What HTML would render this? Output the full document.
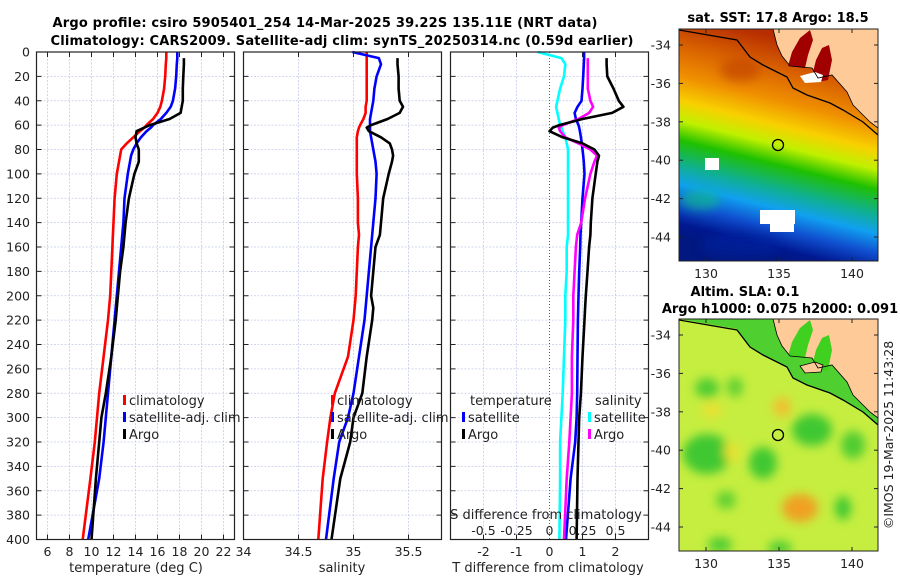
<!DOCTYPE html>
<html><head><meta charset="utf-8">
<style>
html,body{margin:0;padding:0;background:#fff;}
svg{display:block;font-family:"DejaVu Sans","Liberation Sans",sans-serif;}
</style></head>
<body>
<svg id="chart" width="900" height="580" viewBox="0 0 900 580" xmlns="http://www.w3.org/2000/svg">
<defs>
<linearGradient id="sstGrad" gradientUnits="userSpaceOnUse" x1="737" y1="4" x2="679" y2="236">
<stop offset="0" stop-color="#a82000"/>
<stop offset="0.1" stop-color="#b83000"/>
<stop offset="0.22" stop-color="#d86000"/>
<stop offset="0.35" stop-color="#f09000"/>
<stop offset="0.45" stop-color="#f8d000"/>
<stop offset="0.53" stop-color="#c0f000"/>
<stop offset="0.61" stop-color="#20c000"/>
<stop offset="0.71" stop-color="#10b090"/>
<stop offset="0.79" stop-color="#10a0f0"/>
<stop offset="0.87" stop-color="#1050d0"/>
<stop offset="0.95" stop-color="#001890"/>
<stop offset="1" stop-color="#001880"/>
</linearGradient>
<clipPath id="m1clip"><rect x="679" y="29" width="199" height="232"/></clipPath>
<clipPath id="m2clip"><rect x="679" y="319" width="199" height="232"/></clipPath>
<filter id="blur4"><feGaussianBlur stdDeviation="5"/></filter>
</defs>
<g id="titles">
<text x="325" y="27" text-anchor="middle" font-weight="bold" font-size="13" textLength="545">Argo profile: csiro 5905401_254 14-Mar-2025 39.22S 135.11E (NRT data)</text>
<text x="342" y="45" text-anchor="middle" font-weight="bold" font-size="13" textLength="583">Climatology: CARS2009. Satellite-adj clim: synTS_20250314.nc (0.59d earlier)</text>
</g>
<g id="p1"></g>
<g id="p2"></g>
<g id="p3"></g>
<g id="map1">
<text x="778" y="22" text-anchor="middle" font-weight="bold" font-size="13">sat. SST: 17.8 Argo: 18.5</text>
<g clip-path="url(#m1clip)">
<rect x="679" y="29" width="199" height="232" fill="url(#sstGrad)"/>
<g filter="url(#blur4)" opacity="0.6">
<ellipse cx="740" cy="70" rx="20" ry="12" fill="#c04000"/>
<ellipse cx="700" cy="200" rx="20" ry="10" fill="#10c080"/>
<ellipse cx="740" cy="245" rx="40" ry="12" fill="#0020a0"/>
</g>
<rect x="705" y="158" width="14" height="12" fill="#fff"/>
<rect x="760" y="210" width="35" height="14" fill="#fff"/>
<rect x="770" y="220" width="24" height="12" fill="#fff"/>
<polygon points="773,29 777,45 782,56 790,66 812,68 818,78 832,75 847,92 853,105 870,122 878,128 878,29" fill="#fdca98"/>
<polygon points="788,66 792,52 800,38 810,30 813,40 808,55 805,68" fill="#a00000"/>
<polygon points="812,76 816,60 822,48 829,45 832,60 828,80 818,82" fill="#a00000"/>
<polygon points="800,76 815,72 823,75 821,82 805,83" fill="#fff"/>
<polyline points="773,29 777,45 782,56 790,66 812,68 818,78 832,75 847,92 853,105 870,122 878,128" fill="none" stroke="#000" stroke-width="0.8"/>
<polyline points="679,30 737,40 750,57 763,65 787,77 793,88 807,95 830,103 843,110 863,122 878,135" fill="none" stroke="#000" stroke-width="1.3"/>
</g>
<rect x="679" y="29" width="199" height="232" fill="none" stroke="#222" stroke-width="1"/>
<circle cx="778" cy="145" r="5.5" fill="none" stroke="#000" stroke-width="1.3"/>
</g>
<g id="map2">
<text x="745" y="296" text-anchor="middle" font-weight="bold" font-size="13">Altim. SLA: 0.1</text>
<text x="780" y="313" text-anchor="middle" font-weight="bold" font-size="13">Argo h1000: 0.075 h2000: 0.091</text>
<g clip-path="url(#m2clip)">
<rect x="679" y="319" width="199" height="232" fill="#c6ee40"/>
<g filter="url(#blur4)">
<ellipse cx="707" cy="454" rx="24" ry="20" fill="#40c830"/>
<ellipse cx="707" cy="388" rx="12" ry="10" fill="#50cc30"/>
<ellipse cx="735" cy="387" rx="8" ry="10" fill="#60d030"/>
<ellipse cx="763" cy="463" rx="14" ry="16" fill="#40c830"/>
<ellipse cx="812" cy="430" rx="20" ry="16" fill="#40c830"/>
<ellipse cx="853" cy="445" rx="12" ry="14" fill="#50cc30"/>
<ellipse cx="843" cy="508" rx="8" ry="12" fill="#40c830"/>
<ellipse cx="726" cy="500" rx="10" ry="9" fill="#60d030"/>
<ellipse cx="800" cy="508" rx="18" ry="14" fill="#f0a020"/>
<ellipse cx="782" cy="407" rx="9" ry="10" fill="#f0c030"/>
<ellipse cx="712" cy="410" rx="10" ry="8" fill="#e8e030"/>
<ellipse cx="732" cy="452" rx="8" ry="10" fill="#e8e030"/>
<ellipse cx="720" cy="545" rx="12" ry="8" fill="#50cc30"/>
<ellipse cx="780" cy="548" rx="12" ry="7" fill="#50cc30"/>
</g>
<polygon points="679,319 737,329 750,347 763,355 787,367 793,378 807,385 830,393 843,400 863,412 878,425 878,319" fill="#50d030"/>
<polygon points="773,319 777,335 782,346 790,356 812,358 818,368 832,365 847,382 853,395 870,412 878,418 878,319" fill="#fdca98"/>
<polygon points="788,356 792,342 800,328 810,320 813,330 808,345 805,358" fill="#40d020"/>
<polygon points="812,366 816,350 822,338 829,335 832,350 828,370 818,372" fill="#40d020"/>
<polygon points="800,366 815,362 823,365 821,372 805,373" fill="#fdca98" stroke="#000" stroke-width="0.8"/>
<polyline points="773,319 777,335 782,346 790,356 812,358 818,368 832,365 847,382 853,395 870,412 878,418" fill="none" stroke="#000" stroke-width="0.8"/>
<polyline points="679,320 737,330 750,347 763,355 787,367 793,378 807,385 830,393 843,400 863,412 878,425" fill="none" stroke="#000" stroke-width="1.3"/>
</g>
<rect x="679" y="319" width="199" height="232" fill="none" stroke="#222" stroke-width="1"/>
<circle cx="778" cy="435" r="5.5" fill="none" stroke="#000" stroke-width="1.3"/>
</g>
<text transform="translate(893,435) rotate(-90)" text-anchor="middle" font-size="12.5" fill="#222">©IMOS 19-Mar-2025 11:43:28</text>
</svg>
<script>
// ---- data ----
const depths = [0,5,10,20,30,40,45,50,55,60,62,65,70,75,80,85,90,100,120,140,150,160,180,200,210,220,250,280,300,320,350,400];
const tempClim = [16.8,16.8,16.75,16.7,16.6,16.4,16.25,16.0,15.6,15.0,14.8,14.4,13.8,13.2,12.7,12.6,12.5,12.3,12.1,12.0,11.95,11.9,11.8,11.7,11.6,11.5,11.1,10.7,10.5,10.3,9.9,9.2];
const tempSat = [17.8,17.8,17.75,17.7,17.6,17.4,17.2,16.8,16.3,15.6,15.4,15.0,14.5,14.1,13.8,13.6,13.5,13.3,13.0,12.9,12.8,12.7,12.5,12.3,12.2,12.1,11.8,11.5,11.3,11.1,10.7,9.7];
const tempArgo = [null,18.4,18.4,18.35,18.3,18.3,18.2,18.1,17.1,15.3,14.8,14.1,14.0,14.1,14.3,14.3,14.3,13.9,13.4,13.1,13.0,12.9,12.6,12.4,12.3,12.2,11.8,11.3,10.9,10.7,10.4,10.0];
const salClim = [35.12,35.12,35.12,35.12,35.12,35.12,35.11,35.11,35.09,35.06,35.05,35.04,35.03,35.03,35.03,35.03,35.03,35.03,35.04,35.04,35.05,35.04,35.03,35.02,35.01,35.0,34.95,34.83,34.79,34.76,34.72,34.68];
const salSat = [34.99,35.23,35.25,35.21,35.19,35.18,35.17,35.16,35.15,35.15,35.15,35.15,35.16,35.17,35.18,35.19,35.2,35.21,35.2,35.18,35.17,35.16,35.14,35.12,35.11,35.1,35.05,35.0,34.95,34.87,34.82,34.75];
const salArgo = [null,35.4,35.4,35.41,35.41,35.42,35.45,35.42,35.31,35.16,35.12,35.14,35.25,35.33,35.35,35.36,35.35,35.32,35.27,35.25,35.24,35.2,35.18,35.16,35.18,35.17,35.12,35.08,35.0,34.97,34.88,34.8];
const dTsat = [1.05,1.05,1.04,1.02,1.0,0.97,0.85,0.76,0.8,0.88,0.9,0.92,0.95,0.98,1.0,1.02,1.04,1.06,1.0,0.96,0.94,0.93,0.9,0.88,0.87,0.86,0.85,0.84,0.82,0.78,0.64,0.5];
const dTargo = [null,1.73,1.73,1.75,1.94,2.1,2.24,1.9,1.0,0.3,0.1,0.0,0.4,1.0,1.36,1.5,1.45,1.4,1.3,1.25,1.24,1.2,1.15,1.1,1.08,1.06,1.0,0.95,0.9,0.88,0.85,0.82];
const dSsat = [-0.09,0.09,0.12,0.11,0.08,0.06,0.05,0.06,0.07,0.08,0.09,0.1,0.12,0.13,0.14,0.14,0.14,0.14,0.14,0.14,0.14,0.13,0.13,0.12,0.12,0.12,0.11,0.1,0.09,0.08,0.08,0.075];
const dSargo = [null,0.29,0.29,0.29,0.29,0.31,0.33,0.3,0.22,0.1,0.07,0.08,0.12,0.22,0.31,0.36,0.34,0.31,0.27,0.24,0.21,0.2,0.19,0.18,0.18,0.18,0.17,0.17,0.16,0.15,0.13,0.11];
const tempTicks = [6,8,10,12,14,16,18,20,22];
const salTicks = [34,34.5,35,35.5];
const salTickLabels = ["34","34.5","35","35.5"];
const dTTicks = [-2,-1,0,1,2];
const dSTicks = [-0.5,-0.25,0,0.25,0.5];
const dSTickLabels = ["-0.5","-0.25","0","0.25","0.5"];
const depthTicks = [0,20,40,60,80,100,120,140,160,180,200,220,240,260,280,300,320,340,360,380,400];

const NS = "http://www.w3.org/2000/svg";
const Y0 = 52, Y1 = 539.5;
function yScale(d){ return Y0 + (d/400)*(Y1-Y0); }
function mk(tag, attrs, parent){ const e=document.createElementNS(NS,tag); for(const k in attrs) e.setAttribute(k,attrs[k]); parent.appendChild(e); return e; }
function txt(s, attrs, parent){ const e=mk('text',attrs,parent); e.textContent=s; return e; }

function panel(g, x0, x1, dmin, dmax, name){
  const xs = v => x0 + (v-dmin)/(dmax-dmin)*(x1-x0);
  return xs;
}
function frame(g, x0, x1, vgrid, xs, name){
  depthTicks.forEach(d=>{
    const l=mk('line',{x1:x0,x2:x1,y1:yScale(d),y2:yScale(d),stroke:'#c4cce8','stroke-width':0.8,'stroke-dasharray':'2,1.5'},g);
    
    
    mk('line',{x1:x0,x2:x0+5,y1:yScale(d),y2:yScale(d),stroke:'#222','stroke-width':1},g);
    mk('line',{x1:x1-5,x2:x1,y1:yScale(d),y2:yScale(d),stroke:'#222','stroke-width':1},g);
  });
  vgrid.forEach(v=>{
    const x=xs(v);
    const l=mk('line',{x1:x,x2:x,y1:Y0,y2:Y1,stroke:'#c4cce8','stroke-width':0.8,'stroke-dasharray':'2,1.5'},g);
    
    
    mk('line',{x1:x,x2:x,y1:Y0,y2:Y0+5,stroke:'#222','stroke-width':1},g);
    mk('line',{x1:x,x2:x,y1:Y1-5,y2:Y1,stroke:'#222','stroke-width':1},g);
  });
}
function border(g,x0,x1,name){
  const r=mk('rect',{x:x0,y:Y0,width:x1-x0,height:Y1-Y0,fill:'none',stroke:'#222','stroke-width':1.2},g);
  
  
}
function line(g, xs, vals, color, name, w){
  let p=''; vals.forEach((v,i)=>{ if(v===null) return; p += (p?' L':'M')+xs(v).toFixed(1)+','+yScale(depths[i]).toFixed(1); });
  const e=mk('path',{d:p,fill:'none',stroke:color,'stroke-width':w||2.6,'stroke-linejoin':'round'},g);
  
  
}
function legendItem(g,x,y,color,label,name){
  mk('rect',{x:x,y:y-8,width:3,height:10,fill:color},g);
  const t=txt(label,{x:x+6,y:y+2,'font-size':13,fill:'#222'},g);
  
  
}

const root=document.getElementById('chart');
const yl=document.createElementNS(NS,'g'); root.appendChild(yl);


depthTicks.forEach(d=>{ txt(String(d),{x:30,y:yScale(d)+4.5,'text-anchor':'end','font-size':12.5,fill:'#222'},yl); });

// panel 1
const g1=document.getElementById('p1');
const xs1=panel(g1,36.5,234.5,5,23);
frame(g1,36.5,234.5,tempTicks,xs1,'temperature');
line(g1,xs1,tempClim,'#ff0000','temperature-climatology-line');
line(g1,xs1,tempSat,'#0000ff','temperature-satellite-line');
line(g1,xs1,tempArgo,'#000000','temperature-argo-line');
border(g1,36.5,234.5,'temperature');
tempTicks.forEach(v=>txt(String(v),{x:xs1(v),y:556,'text-anchor':'middle','font-size':12.5,fill:'#222'},g1));
txt('temperature (deg C)',{x:136,y:572,'text-anchor':'middle','font-size':13,fill:'#222'},g1);
legendItem(g1,123,403,'#ff0000','climatology','legend-climatology');
legendItem(g1,123,420,'#0000ff','satellite-adj. clim','legend-satellite-adj');
legendItem(g1,123,437,'#000000','Argo','legend-argo');

// panel 2
const g2=document.getElementById('p2');
const xs2=panel(g2,243.5,441.5,34,35.8);
frame(g2,243.5,441.5,[34.5,35,35.5],xs2,'salinity');
line(g2,xs2,salClim,'#ff0000','salinity-climatology-line');
line(g2,xs2,salSat,'#0000ff','salinity-satellite-line');
line(g2,xs2,salArgo,'#000000','salinity-argo-line');
border(g2,243.5,441.5,'salinity');
salTicks.forEach((v,i)=>txt(salTickLabels[i],{x:xs2(v),y:556,'text-anchor':'middle','font-size':12.5,fill:'#222'},g2));
txt('salinity',{x:342,y:572,'text-anchor':'middle','font-size':13,fill:'#222'},g2);
legendItem(g2,331,403,'#ff0000','climatology','legend2-climatology');
legendItem(g2,331,420,'#0000ff','satellite-adj. clim','legend2-satellite-adj');
legendItem(g2,331,437,'#000000','Argo','legend2-argo');

// panel 3
const g3=document.getElementById('p3');
const xsT=panel(g3,450.5,648.5,-3,3);
const xsS=v=>xsT(v*4);
frame(g3,450.5,648.5,[-2,-1,1,2],xsT,'difference');
mk('line',{x1:xsT(0),x2:xsT(0),y1:Y0,y2:Y1,stroke:'#556b2f','stroke-width':1,'stroke-dasharray':'1,2'},g3);
line(g3,xsS,dSsat,'#00ffff','salinity-diff-satellite-line');
line(g3,xsT,dTsat,'#0000ff','temperature-diff-satellite-line');
line(g3,xsS,dSargo,'#ff00ff','salinity-diff-argo-line');
line(g3,xsT,dTargo,'#000000','temperature-diff-argo-line');
border(g3,450.5,648.5,'difference');
dTTicks.forEach(v=>txt(String(v),{x:xsT(v),y:556,'text-anchor':'middle','font-size':12.5,fill:'#222'},g3));
txt('T difference from climatology',{x:548,y:572,'text-anchor':'middle','font-size':13,fill:'#222'},g3);
txt('S difference from climatology',{x:546,y:519,'text-anchor':'middle','font-size':13,fill:'#222'},g3);
dSTicks.forEach((v,i)=>txt(dSTickLabels[i],{x:xsS(v),y:535,'text-anchor':'middle','font-size':12.5,fill:'#222'},g3));
txt('temperature',{x:470,y:405,'font-size':13,fill:'#222'},g3);
legendItem(g3,462,420,'#0000ff','satellite','legend-diff-temp-satellite');
legendItem(g3,462,437,'#000000','Argo','legend-diff-temp-argo');
txt('salinity',{x:595,y:405,'font-size':13,fill:'#222'},g3);
legendItem(g3,588,420,'#00ffff','satellite','legend-diff-sal-satellite');
legendItem(g3,588,437,'#ff00ff','Argo','legend-diff-sal-argo');

// map axes
const latTicks=[-34,-36,-38,-40,-42,-44];
const lonTicks=[130,135,140];
function mapAxes(top, latPx, name){
  const g=document.createElementNS(NS,'g'); root.appendChild(g);
  
  
  const lonX=v=>706+(v-130)*14.6;
  const latY=v=>top+latPx(v);
  latTicks.forEach(v=>{ const y=latY(v);
    txt(String(v),{x:671,y:y+4.5,'text-anchor':'end','font-size':12.5,fill:'#222'},g);
    mk('line',{x1:679,x2:683,y1:y,y2:y,stroke:'#222'},g);
    mk('line',{x1:874,x2:878,y1:y,y2:y,stroke:'#222'},g);
  });
  lonTicks.forEach(v=>{ const x=lonX(v);
    txt(String(v),{x:x,y:top+232+17,'text-anchor':'middle','font-size':12.5,fill:'#222'},g);
    mk('line',{x1:x,x2:x,y1:top,y2:top+4,stroke:'#222'},g);
    mk('line',{x1:x,x2:x,y1:top+228,y2:top+232,stroke:'#222'},g);
  });
}
const latPx=v=>16+(-34-v)*19.2;
mapAxes(29,latPx,'sst-map');
mapAxes(319,latPx,'sla-map');
</script>
</body></html>
